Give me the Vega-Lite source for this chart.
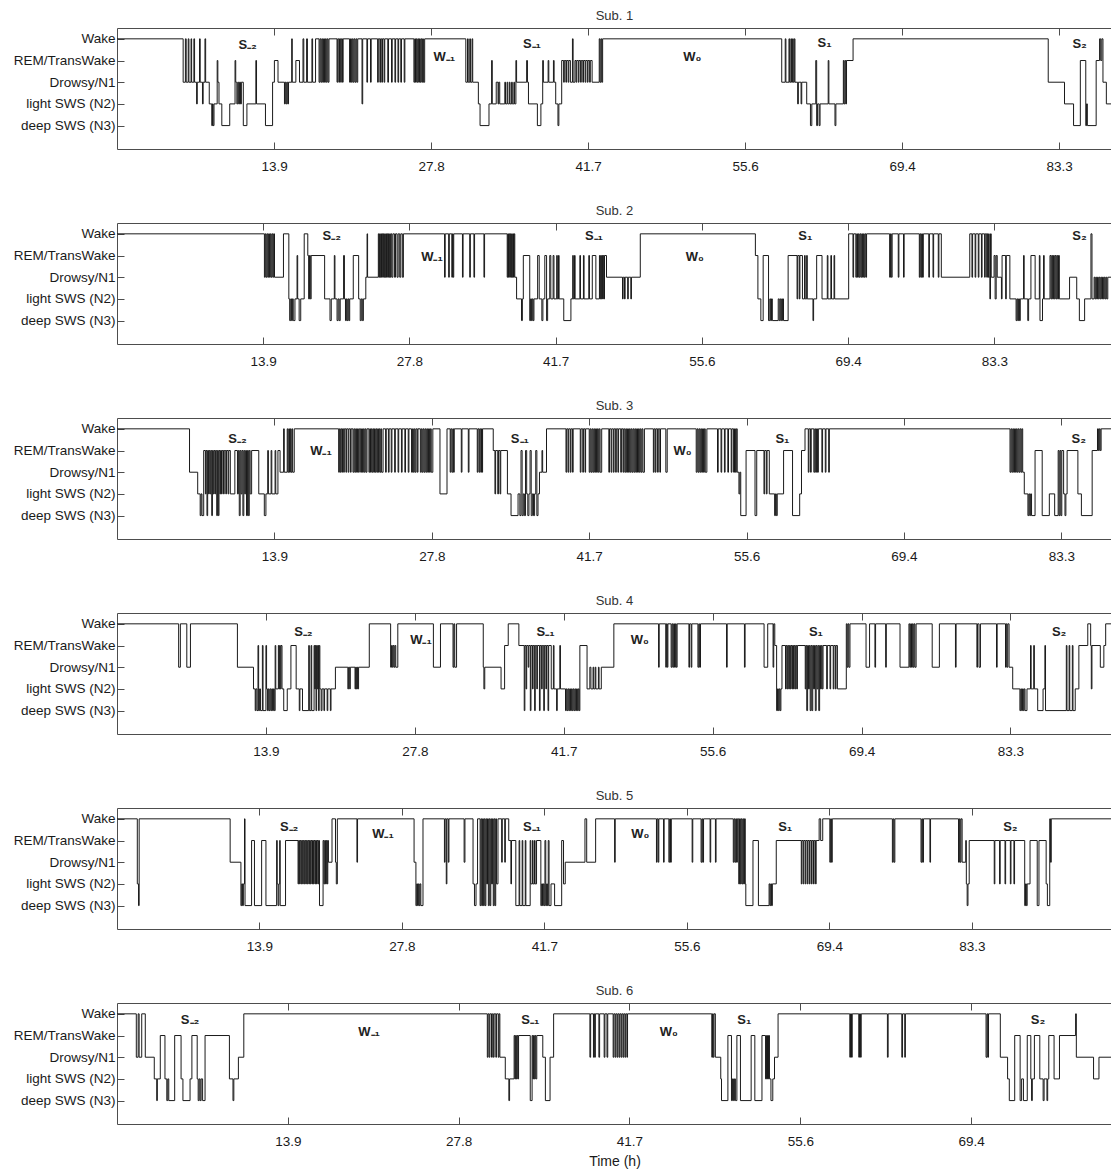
{
"$schema": "https://vega.github.io/schema/vega-lite/v6.json",
"padding": {"left": 0, "top": 9, "right": 0, "bottom": 0},
"config": {
 "font": "Liberation Sans",
 "view": {"stroke": "#4d4d4d", "strokeWidth": 1},
 "axis": {"domain": false, "grid": false, "ticks": true, "tickSize": -7, "tickColor": "#4d4d4d", "labelFontSize": 13.5, "labelColor": "#1a1a1a", "labelFont": "Liberation Sans", "labelOverlap": false},
 "axisBottom": {"labelPadding": 17, "minExtent": 30, "maxExtent": 30},
 "axisTop": {"minExtent": 0, "maxExtent": 0},
 "axisLeft": {"labelPadding": 9, "minExtent": 116, "maxExtent": 116},
 "title": {"fontSize": 13, "fontWeight": "normal", "font": "Liberation Sans", "color": "#333333", "offset": 5, "anchor": "middle"},
 "concat": {"spacing": 24}
},
"datasets": {
"lab": [
{"p":1,"t":11.55,"s":4.72,"txt":"S₋₂"},{"p":1,"t":28.95,"s":4.15,"txt":"W₋₁"},{"p":1,"t":36.7,"s":4.77,"txt":"S₋₁"},{"p":1,"t":50.88,"s":4.15,"txt":"W₀"},{"p":1,"t":62.58,"s":4.8,"txt":"S₁"},{"p":1,"t":85.14,"s":4.77,"txt":"S₂"},
{"p":2,"t":20.4,"s":4.88,"txt":"S₋₂"},{"p":2,"t":29.92,"s":3.92,"txt":"W₋₁"},{"p":2,"t":45.3,"s":4.88,"txt":"S₋₁"},{"p":2,"t":54.88,"s":3.92,"txt":"W₀"},{"p":2,"t":65.37,"s":4.88,"txt":"S₁"},{"p":2,"t":91.42,"s":4.88,"txt":"S₂"},
{"p":3,"t":10.63,"s":4.55,"txt":"S₋₂"},{"p":3,"t":18.0,"s":3.97,"txt":"W₋₁"},{"p":3,"t":35.55,"s":4.55,"txt":"S₋₁"},{"p":3,"t":49.91,"s":3.97,"txt":"W₀"},{"p":3,"t":58.72,"s":4.55,"txt":"S₁"},{"p":3,"t":84.87,"s":4.55,"txt":"S₂"},
{"p":4,"t":17.38,"s":4.62,"txt":"S₋₂"},{"p":4,"t":28.35,"s":4.25,"txt":"W₋₁"},{"p":4,"t":39.97,"s":4.62,"txt":"S₋₁"},{"p":4,"t":48.77,"s":4.25,"txt":"W₀"},{"p":4,"t":65.19,"s":4.62,"txt":"S₁"},{"p":4,"t":87.87,"s":4.62,"txt":"S₂"},
{"p":5,"t":16.78,"s":4.62,"txt":"S₋₂"},{"p":5,"t":25.93,"s":4.3,"txt":"W₋₁"},{"p":5,"t":40.45,"s":4.62,"txt":"S₋₁"},{"p":5,"t":51.02,"s":4.3,"txt":"W₀"},{"p":5,"t":65.14,"s":4.62,"txt":"S₁"},{"p":5,"t":87.09,"s":4.62,"txt":"S₂"},
{"p":6,"t":5.94,"s":4.72,"txt":"S₋₂"},{"p":6,"t":20.5,"s":4.15,"txt":"W₋₁"},{"p":6,"t":33.6,"s":4.72,"txt":"S₋₁"},{"p":6,"t":44.86,"s":4.15,"txt":"W₀"},{"p":6,"t":51.0,"s":4.72,"txt":"S₁"},{"p":6,"t":74.89,"s":4.72,"txt":"S₂"}
],
"p1": [{"t":0,"s":5},{"t":5.85,"s":3},{"t":6.05,"s":5},{"t":6.12,"s":3},{"t":6.3,"s":5},{"t":6.36,"s":3},{"t":6.55,"s":5},{"t":6.6,"s":3},{"t":6.8,"s":5},{"t":6.86,"s":3},{"t":7.04,"s":2},{"t":7.1,"s":3},{"t":7.3,"s":5},{"t":7.36,"s":3},{"t":7.56,"s":2},{"t":7.62,"s":3},{"t":7.78,"s":5},{"t":7.84,"s":3},{"t":8.16,"s":2},{"t":8.38,"s":1},{"t":8.45,"s":2},{"t":8.5,"s":1},{"t":8.58,"s":2},{"t":8.86,"s":4},{"t":8.92,"s":3},{"t":9.02,"s":2},{"t":9.27,"s":1},{"t":9.97,"s":2},{"t":10.44,"s":4},{"t":10.5,"s":3},{"t":10.6,"s":2},{"t":10.68,"s":3},{"t":10.76,"s":2},{"t":10.84,"s":3},{"t":10.92,"s":2},{"t":11.0,"s":3},{"t":11.17,"s":1},{"t":11.49,"s":2},{"t":12.28,"s":4},{"t":12.34,"s":2},{"t":13.13,"s":1},{"t":13.76,"s":3},{"t":13.92,"s":4},{"t":14.24,"s":3},{"t":14.81,"s":2},{"t":14.88,"s":3},{"t":14.95,"s":2},{"t":15.02,"s":3},{"t":15.1,"s":2},{"t":15.17,"s":3},{"t":15.45,"s":5},{"t":15.5,"s":3},{"t":15.82,"s":4},{"t":16.14,"s":3},{"t":16.45,"s":5},{"t":16.52,"s":3},{"t":16.77,"s":5},{"t":16.84,"s":3},{"t":17.24,"s":5},{"t":17.3,"s":3},{"t":17.56,"s":5},{"t":17.87,"s":3},{"t":17.95,"s":5},{"t":18.03,"s":3},{"t":18.11,"s":5},{"t":18.19,"s":3},{"t":18.27,"s":5},{"t":18.35,"s":3},{"t":18.43,"s":5},{"t":18.51,"s":3},{"t":18.59,"s":5},{"t":18.67,"s":3},{"t":18.75,"s":5},{"t":19.46,"s":3},{"t":19.52,"s":5},{"t":19.62,"s":3},{"t":19.68,"s":5},{"t":19.78,"s":3},{"t":19.84,"s":5},{"t":19.94,"s":3},{"t":20.0,"s":5},{"t":20.57,"s":3},{"t":20.65,"s":5},{"t":20.73,"s":3},{"t":20.81,"s":5},{"t":20.89,"s":3},{"t":20.97,"s":5},{"t":21.05,"s":3},{"t":21.13,"s":5},{"t":21.21,"s":3},{"t":21.29,"s":5},{"t":21.67,"s":2},{"t":21.73,"s":5},{"t":22.1,"s":3},{"t":22.16,"s":5},{"t":22.42,"s":3},{"t":22.48,"s":5},{"t":23.05,"s":3},{"t":23.11,"s":5},{"t":23.25,"s":3},{"t":23.31,"s":5},{"t":23.42,"s":3},{"t":23.48,"s":5},{"t":23.62,"s":3},{"t":23.68,"s":5},{"t":23.95,"s":3},{"t":24.01,"s":5},{"t":24.28,"s":3},{"t":24.34,"s":5},{"t":24.58,"s":3},{"t":24.64,"s":5},{"t":24.85,"s":3},{"t":24.91,"s":5},{"t":25.1,"s":3},{"t":25.16,"s":5},{"t":25.4,"s":3},{"t":25.46,"s":5},{"t":26.26,"s":3},{"t":26.33,"s":5},{"t":26.4,"s":3},{"t":26.47,"s":5},{"t":26.54,"s":3},{"t":26.61,"s":5},{"t":26.68,"s":3},{"t":26.75,"s":5},{"t":26.82,"s":3},{"t":26.89,"s":5},{"t":26.96,"s":3},{"t":27.03,"s":5},{"t":27.1,"s":3},{"t":27.21,"s":5},{"t":30.85,"s":3},{"t":31.0,"s":5},{"t":31.06,"s":3},{"t":31.2,"s":5},{"t":31.26,"s":3},{"t":31.4,"s":5},{"t":31.46,"s":3},{"t":31.96,"s":2},{"t":32.11,"s":1},{"t":32.9,"s":2},{"t":33.13,"s":4},{"t":33.19,"s":2},{"t":33.54,"s":3},{"t":33.7,"s":2},{"t":33.76,"s":3},{"t":33.85,"s":2},{"t":34.3,"s":3},{"t":34.36,"s":2},{"t":34.5,"s":3},{"t":34.56,"s":2},{"t":34.7,"s":3},{"t":34.76,"s":2},{"t":34.9,"s":3},{"t":34.96,"s":2},{"t":35.1,"s":3},{"t":35.16,"s":2},{"t":35.28,"s":4},{"t":35.34,"s":3},{"t":36.23,"s":4},{"t":36.3,"s":3},{"t":36.39,"s":2},{"t":37.18,"s":1},{"t":37.49,"s":2},{"t":37.65,"s":4},{"t":37.71,"s":3},{"t":38.13,"s":4},{"t":38.19,"s":3},{"t":38.6,"s":4},{"t":38.66,"s":3},{"t":38.8,"s":2},{"t":39.0,"s":1},{"t":39.08,"s":2},{"t":39.33,"s":4},{"t":39.5,"s":3},{"t":39.56,"s":4},{"t":39.7,"s":3},{"t":39.76,"s":4},{"t":39.9,"s":3},{"t":39.96,"s":4},{"t":40.1,"s":3},{"t":40.28,"s":5},{"t":40.34,"s":3},{"t":40.5,"s":4},{"t":40.6,"s":3},{"t":40.66,"s":4},{"t":40.8,"s":3},{"t":40.86,"s":4},{"t":41.0,"s":3},{"t":41.06,"s":4},{"t":41.2,"s":3},{"t":41.26,"s":4},{"t":41.4,"s":3},{"t":41.46,"s":4},{"t":41.6,"s":3},{"t":41.66,"s":4},{"t":41.8,"s":3},{"t":41.86,"s":4},{"t":42.02,"s":3},{"t":42.65,"s":5},{"t":42.72,"s":3},{"t":42.8,"s":5},{"t":42.87,"s":3},{"t":42.95,"s":5},{"t":58.79,"s":3},{"t":59.1,"s":5},{"t":59.16,"s":3},{"t":59.43,"s":5},{"t":59.49,"s":3},{"t":59.6,"s":5},{"t":59.66,"s":3},{"t":59.75,"s":5},{"t":59.81,"s":3},{"t":59.9,"s":5},{"t":59.96,"s":3},{"t":60.2,"s":2},{"t":60.26,"s":3},{"t":60.5,"s":2},{"t":60.56,"s":3},{"t":61.0,"s":2},{"t":61.33,"s":1},{"t":61.45,"s":2},{"t":61.8,"s":4},{"t":61.88,"s":1},{"t":61.96,"s":2},{"t":62.1,"s":1},{"t":62.18,"s":2},{"t":62.9,"s":4},{"t":62.96,"s":2},{"t":63.5,"s":1},{"t":63.58,"s":2},{"t":64.24,"s":4},{"t":64.3,"s":2},{"t":64.38,"s":4},{"t":64.45,"s":2},{"t":64.52,"s":4},{"t":65.1,"s":5},{"t":82.36,"s":3},{"t":83.8,"s":2},{"t":84.6,"s":1},{"t":85.2,"s":4},{"t":85.68,"s":1},{"t":85.75,"s":2},{"t":85.82,"s":1},{"t":86.6,"s":4},{"t":86.9,"s":5},{"t":87.0,"s":4},{"t":87.1,"s":5},{"t":87.2,"s":3},{"t":87.5,"s":2},{"t":88.0,"s":2}],
"p2": [{"t":0,"s":5},{"t":14.0,"s":3},{"t":14.08,"s":5},{"t":14.16,"s":3},{"t":14.24,"s":5},{"t":14.32,"s":3},{"t":14.4,"s":5},{"t":14.48,"s":3},{"t":14.56,"s":5},{"t":14.64,"s":3},{"t":14.72,"s":5},{"t":14.8,"s":3},{"t":14.88,"s":5},{"t":14.96,"s":3},{"t":15.81,"s":5},{"t":16.32,"s":2},{"t":16.4,"s":1},{"t":16.5,"s":2},{"t":16.58,"s":1},{"t":16.66,"s":2},{"t":16.74,"s":1},{"t":16.9,"s":2},{"t":17.1,"s":4},{"t":17.16,"s":2},{"t":17.3,"s":1},{"t":17.45,"s":2},{"t":17.78,"s":5},{"t":18.12,"s":4},{"t":18.2,"s":2},{"t":18.28,"s":4},{"t":18.36,"s":2},{"t":18.44,"s":4},{"t":19.72,"s":2},{"t":20.23,"s":1},{"t":20.35,"s":2},{"t":20.64,"s":4},{"t":20.7,"s":2},{"t":20.9,"s":1},{"t":21.0,"s":2},{"t":21.1,"s":1},{"t":21.2,"s":2},{"t":21.52,"s":4},{"t":21.6,"s":2},{"t":21.7,"s":1},{"t":21.78,"s":2},{"t":21.86,"s":1},{"t":21.94,"s":2},{"t":22.02,"s":1},{"t":22.1,"s":2},{"t":22.44,"s":4},{"t":22.95,"s":2},{"t":23.1,"s":1},{"t":23.2,"s":2},{"t":23.3,"s":1},{"t":23.4,"s":2},{"t":23.63,"s":3},{"t":23.75,"s":5},{"t":23.8,"s":3},{"t":24.82,"s":5},{"t":24.88,"s":3},{"t":24.94,"s":5},{"t":25.0,"s":3},{"t":25.06,"s":5},{"t":25.12,"s":3},{"t":25.18,"s":5},{"t":25.24,"s":3},{"t":25.3,"s":5},{"t":25.36,"s":3},{"t":25.42,"s":5},{"t":25.48,"s":3},{"t":25.54,"s":5},{"t":25.6,"s":3},{"t":25.66,"s":5},{"t":25.72,"s":3},{"t":25.78,"s":5},{"t":25.84,"s":3},{"t":25.9,"s":5},{"t":25.96,"s":3},{"t":26.02,"s":5},{"t":26.1,"s":3},{"t":26.2,"s":5},{"t":26.35,"s":3},{"t":26.45,"s":5},{"t":26.6,"s":3},{"t":26.7,"s":5},{"t":26.85,"s":3},{"t":26.95,"s":5},{"t":27.1,"s":3},{"t":27.2,"s":5},{"t":31.11,"s":3},{"t":31.17,"s":5},{"t":31.5,"s":3},{"t":31.56,"s":5},{"t":31.8,"s":3},{"t":31.86,"s":5},{"t":31.92,"s":3},{"t":31.98,"s":5},{"t":32.81,"s":3},{"t":32.87,"s":5},{"t":33.5,"s":3},{"t":33.56,"s":5},{"t":33.9,"s":3},{"t":33.96,"s":5},{"t":34.85,"s":3},{"t":34.91,"s":5},{"t":37.06,"s":3},{"t":37.12,"s":5},{"t":37.18,"s":3},{"t":37.24,"s":5},{"t":37.3,"s":3},{"t":37.36,"s":5},{"t":37.42,"s":3},{"t":37.48,"s":5},{"t":37.54,"s":3},{"t":37.6,"s":5},{"t":37.66,"s":3},{"t":37.72,"s":5},{"t":37.78,"s":3},{"t":37.95,"s":2},{"t":38.42,"s":1},{"t":38.5,"s":2},{"t":38.59,"s":4},{"t":39.2,"s":1},{"t":39.28,"s":2},{"t":39.36,"s":1},{"t":39.44,"s":2},{"t":39.52,"s":1},{"t":39.6,"s":2},{"t":39.95,"s":4},{"t":40.1,"s":2},{"t":40.35,"s":1},{"t":40.45,"s":2},{"t":40.63,"s":4},{"t":40.8,"s":1},{"t":40.9,"s":2},{"t":41.1,"s":4},{"t":41.2,"s":2},{"t":41.42,"s":4},{"t":41.5,"s":2},{"t":41.76,"s":4},{"t":41.82,"s":2},{"t":41.93,"s":4},{"t":41.99,"s":2},{"t":42.43,"s":1},{"t":43.11,"s":2},{"t":43.28,"s":4},{"t":43.34,"s":2},{"t":43.45,"s":4},{"t":43.51,"s":2},{"t":43.96,"s":4},{"t":44.02,"s":2},{"t":44.3,"s":4},{"t":44.36,"s":2},{"t":44.81,"s":4},{"t":44.87,"s":2},{"t":45.14,"s":4},{"t":45.48,"s":2},{"t":45.82,"s":4},{"t":45.88,"s":2},{"t":45.94,"s":4},{"t":46.0,"s":2},{"t":46.06,"s":4},{"t":46.12,"s":2},{"t":46.18,"s":4},{"t":46.24,"s":2},{"t":46.3,"s":4},{"t":46.49,"s":3},{"t":48.01,"s":2},{"t":48.07,"s":3},{"t":48.2,"s":2},{"t":48.26,"s":3},{"t":48.5,"s":2},{"t":48.56,"s":3},{"t":48.8,"s":2},{"t":48.86,"s":3},{"t":49.7,"s":5},{"t":60.63,"s":4},{"t":60.87,"s":2},{"t":61.15,"s":1},{"t":61.37,"s":4},{"t":61.88,"s":1},{"t":62.0,"s":2},{"t":62.08,"s":1},{"t":62.16,"s":2},{"t":62.24,"s":1},{"t":62.8,"s":2},{"t":62.9,"s":1},{"t":63.0,"s":2},{"t":63.1,"s":1},{"t":63.2,"s":2},{"t":63.3,"s":1},{"t":63.74,"s":4},{"t":64.59,"s":2},{"t":64.65,"s":4},{"t":64.8,"s":2},{"t":64.86,"s":4},{"t":65.1,"s":2},{"t":65.3,"s":4},{"t":65.36,"s":2},{"t":65.5,"s":4},{"t":65.56,"s":2},{"t":66.1,"s":1},{"t":66.16,"s":2},{"t":66.45,"s":4},{"t":66.96,"s":2},{"t":67.46,"s":4},{"t":67.52,"s":2},{"t":67.8,"s":4},{"t":67.86,"s":2},{"t":68.1,"s":4},{"t":68.16,"s":2},{"t":69.49,"s":5},{"t":69.9,"s":3},{"t":69.96,"s":5},{"t":70.17,"s":3},{"t":70.25,"s":5},{"t":70.33,"s":3},{"t":70.41,"s":5},{"t":70.49,"s":3},{"t":70.57,"s":5},{"t":70.65,"s":3},{"t":70.73,"s":5},{"t":70.81,"s":3},{"t":70.89,"s":5},{"t":70.97,"s":3},{"t":71.05,"s":5},{"t":71.13,"s":3},{"t":71.19,"s":5},{"t":73.38,"s":3},{"t":73.46,"s":5},{"t":73.54,"s":3},{"t":73.62,"s":5},{"t":74.2,"s":3},{"t":74.26,"s":5},{"t":74.7,"s":3},{"t":74.76,"s":5},{"t":76.2,"s":3},{"t":76.26,"s":5},{"t":76.34,"s":3},{"t":76.42,"s":5},{"t":76.5,"s":3},{"t":76.58,"s":5},{"t":77.1,"s":3},{"t":77.16,"s":5},{"t":77.5,"s":3},{"t":77.56,"s":5},{"t":78.0,"s":3},{"t":78.06,"s":5},{"t":78.29,"s":3},{"t":80.99,"s":5},{"t":81.2,"s":3},{"t":81.26,"s":5},{"t":81.5,"s":3},{"t":81.56,"s":5},{"t":81.8,"s":3},{"t":81.86,"s":5},{"t":82.1,"s":3},{"t":82.16,"s":5},{"t":82.4,"s":3},{"t":82.46,"s":5},{"t":82.6,"s":3},{"t":82.66,"s":5},{"t":82.72,"s":3},{"t":82.78,"s":5},{"t":82.84,"s":3},{"t":82.9,"s":2},{"t":82.96,"s":5},{"t":83.03,"s":3},{"t":83.3,"s":4},{"t":83.4,"s":2},{"t":83.5,"s":4},{"t":83.6,"s":3},{"t":84.0,"s":2},{"t":84.06,"s":4},{"t":84.4,"s":2},{"t":84.46,"s":4},{"t":84.8,"s":2},{"t":85.39,"s":1},{"t":85.47,"s":2},{"t":85.55,"s":1},{"t":85.63,"s":2},{"t":85.71,"s":1},{"t":85.79,"s":2},{"t":86.1,"s":4},{"t":86.16,"s":2},{"t":86.5,"s":1},{"t":86.58,"s":2},{"t":86.8,"s":4},{"t":87.2,"s":2},{"t":87.6,"s":4},{"t":87.66,"s":1},{"t":87.9,"s":2},{"t":88.0,"s":4},{"t":88.06,"s":2},{"t":88.61,"s":4},{"t":88.7,"s":2},{"t":88.78,"s":4},{"t":88.86,"s":2},{"t":88.94,"s":4},{"t":89.02,"s":2},{"t":89.1,"s":4},{"t":89.18,"s":2},{"t":89.26,"s":4},{"t":89.34,"s":2},{"t":89.42,"s":4},{"t":89.5,"s":2},{"t":90.47,"s":3},{"t":91.15,"s":2},{"t":91.4,"s":1},{"t":91.9,"s":2},{"t":92.5,"s":5},{"t":92.6,"s":2},{"t":92.8,"s":3},{"t":92.88,"s":2},{"t":92.96,"s":3},{"t":93.04,"s":2},{"t":93.12,"s":3},{"t":93.2,"s":2},{"t":93.28,"s":3},{"t":93.36,"s":2},{"t":93.44,"s":3},{"t":93.52,"s":2},{"t":93.6,"s":3},{"t":93.68,"s":2},{"t":93.76,"s":3},{"t":93.84,"s":2},{"t":93.92,"s":3},{"t":94.0,"s":2},{"t":94.1,"s":3},{"t":94.5,"s":3}],
"p3": [{"t":0,"s":5},{"t":6.4,"s":3},{"t":7.12,"s":2},{"t":7.34,"s":1},{"t":7.42,"s":2},{"t":7.5,"s":1},{"t":7.65,"s":4},{"t":7.8,"s":2},{"t":7.86,"s":4},{"t":7.94,"s":1},{"t":8.0,"s":4},{"t":8.08,"s":2},{"t":8.14,"s":4},{"t":8.22,"s":2},{"t":8.28,"s":4},{"t":8.36,"s":1},{"t":8.42,"s":4},{"t":8.5,"s":2},{"t":8.56,"s":4},{"t":8.64,"s":2},{"t":8.7,"s":4},{"t":8.8,"s":1},{"t":8.86,"s":4},{"t":8.94,"s":1},{"t":9.0,"s":4},{"t":9.08,"s":2},{"t":9.14,"s":4},{"t":9.22,"s":2},{"t":9.28,"s":4},{"t":9.4,"s":2},{"t":9.46,"s":4},{"t":9.6,"s":2},{"t":9.66,"s":4},{"t":9.8,"s":2},{"t":9.86,"s":4},{"t":10.0,"s":2},{"t":10.4,"s":4},{"t":10.63,"s":2},{"t":10.71,"s":4},{"t":10.79,"s":1},{"t":10.87,"s":4},{"t":10.95,"s":2},{"t":11.03,"s":4},{"t":11.11,"s":1},{"t":11.19,"s":4},{"t":11.27,"s":2},{"t":11.35,"s":4},{"t":11.43,"s":1},{"t":11.51,"s":4},{"t":11.59,"s":1},{"t":11.67,"s":4},{"t":11.75,"s":2},{"t":11.88,"s":4},{"t":12.51,"s":2},{"t":13.0,"s":1},{"t":13.14,"s":2},{"t":13.3,"s":4},{"t":13.36,"s":2},{"t":13.6,"s":4},{"t":13.66,"s":2},{"t":13.95,"s":4},{"t":14.01,"s":2},{"t":14.2,"s":4},{"t":14.39,"s":3},{"t":14.7,"s":5},{"t":14.76,"s":3},{"t":15.02,"s":5},{"t":15.08,"s":3},{"t":15.16,"s":5},{"t":15.22,"s":3},{"t":15.3,"s":5},{"t":15.36,"s":3},{"t":15.44,"s":5},{"t":15.5,"s":3},{"t":15.64,"s":5},{"t":19.56,"s":3},{"t":19.62,"s":5},{"t":19.7,"s":3},{"t":19.76,"s":5},{"t":19.84,"s":3},{"t":19.9,"s":5},{"t":20.0,"s":3},{"t":20.06,"s":5},{"t":20.2,"s":3},{"t":20.26,"s":5},{"t":20.4,"s":3},{"t":20.46,"s":5},{"t":20.6,"s":3},{"t":20.66,"s":5},{"t":20.82,"s":3},{"t":20.9,"s":5},{"t":20.98,"s":3},{"t":21.06,"s":5},{"t":21.14,"s":3},{"t":21.22,"s":5},{"t":21.3,"s":3},{"t":21.38,"s":5},{"t":21.5,"s":3},{"t":21.58,"s":5},{"t":21.66,"s":3},{"t":21.74,"s":5},{"t":21.82,"s":3},{"t":21.9,"s":5},{"t":21.98,"s":3},{"t":22.06,"s":5},{"t":22.23,"s":3},{"t":22.3,"s":5},{"t":22.37,"s":3},{"t":22.44,"s":5},{"t":22.51,"s":3},{"t":22.58,"s":5},{"t":22.65,"s":3},{"t":22.72,"s":5},{"t":22.79,"s":3},{"t":22.86,"s":5},{"t":22.93,"s":3},{"t":23.0,"s":5},{"t":23.07,"s":3},{"t":23.14,"s":5},{"t":23.21,"s":3},{"t":23.28,"s":5},{"t":23.35,"s":3},{"t":23.48,"s":5},{"t":23.7,"s":3},{"t":23.76,"s":5},{"t":23.95,"s":3},{"t":24.01,"s":5},{"t":24.2,"s":3},{"t":24.26,"s":5},{"t":24.5,"s":3},{"t":24.56,"s":5},{"t":24.8,"s":3},{"t":24.86,"s":5},{"t":25.1,"s":3},{"t":25.16,"s":5},{"t":25.4,"s":3},{"t":25.46,"s":5},{"t":25.7,"s":3},{"t":25.76,"s":5},{"t":25.99,"s":3},{"t":26.07,"s":5},{"t":26.15,"s":3},{"t":26.23,"s":5},{"t":26.31,"s":3},{"t":26.39,"s":5},{"t":26.5,"s":3},{"t":26.56,"s":5},{"t":26.77,"s":3},{"t":26.85,"s":5},{"t":26.93,"s":3},{"t":27.01,"s":5},{"t":27.09,"s":3},{"t":27.17,"s":5},{"t":27.25,"s":3},{"t":27.33,"s":5},{"t":27.41,"s":3},{"t":27.49,"s":5},{"t":27.57,"s":3},{"t":27.65,"s":5},{"t":27.73,"s":3},{"t":27.87,"s":5},{"t":28.5,"s":2},{"t":29.12,"s":5},{"t":29.4,"s":3},{"t":29.46,"s":5},{"t":29.55,"s":3},{"t":29.63,"s":5},{"t":29.7,"s":3},{"t":29.76,"s":5},{"t":30.38,"s":3},{"t":30.44,"s":5},{"t":31.0,"s":3},{"t":31.06,"s":5},{"t":31.79,"s":3},{"t":31.85,"s":5},{"t":31.95,"s":3},{"t":32.01,"s":5},{"t":32.1,"s":3},{"t":32.16,"s":5},{"t":32.22,"s":3},{"t":32.26,"s":5},{"t":33.2,"s":4},{"t":33.35,"s":2},{"t":33.41,"s":4},{"t":33.6,"s":2},{"t":33.66,"s":4},{"t":33.8,"s":2},{"t":33.86,"s":4},{"t":34.45,"s":2},{"t":34.77,"s":1},{"t":35.39,"s":2},{"t":35.55,"s":1},{"t":35.65,"s":4},{"t":35.75,"s":1},{"t":35.85,"s":2},{"t":35.95,"s":1},{"t":36.05,"s":4},{"t":36.15,"s":2},{"t":36.25,"s":1},{"t":36.35,"s":2},{"t":36.45,"s":4},{"t":36.55,"s":1},{"t":36.65,"s":2},{"t":36.75,"s":1},{"t":36.85,"s":2},{"t":36.95,"s":4},{"t":37.05,"s":1},{"t":37.15,"s":2},{"t":37.28,"s":3},{"t":37.5,"s":4},{"t":37.56,"s":3},{"t":37.9,"s":5},{"t":39.62,"s":3},{"t":39.68,"s":5},{"t":39.8,"s":3},{"t":39.86,"s":5},{"t":40.0,"s":3},{"t":40.06,"s":5},{"t":40.2,"s":3},{"t":40.25,"s":5},{"t":40.88,"s":3},{"t":40.94,"s":5},{"t":41.1,"s":3},{"t":41.16,"s":5},{"t":41.3,"s":3},{"t":41.35,"s":5},{"t":41.67,"s":3},{"t":41.75,"s":5},{"t":41.83,"s":3},{"t":41.91,"s":5},{"t":41.99,"s":3},{"t":42.07,"s":5},{"t":42.15,"s":3},{"t":42.23,"s":5},{"t":42.31,"s":3},{"t":42.39,"s":5},{"t":42.47,"s":3},{"t":42.55,"s":5},{"t":42.63,"s":3},{"t":42.77,"s":5},{"t":43.4,"s":3},{"t":43.46,"s":5},{"t":43.6,"s":3},{"t":43.66,"s":5},{"t":43.8,"s":3},{"t":43.86,"s":5},{"t":44.0,"s":3},{"t":44.06,"s":5},{"t":44.2,"s":3},{"t":44.26,"s":5},{"t":44.45,"s":3},{"t":44.51,"s":5},{"t":44.65,"s":3},{"t":44.71,"s":5},{"t":44.81,"s":3},{"t":44.89,"s":5},{"t":44.97,"s":3},{"t":45.05,"s":5},{"t":45.13,"s":3},{"t":45.21,"s":5},{"t":45.29,"s":3},{"t":45.37,"s":5},{"t":45.45,"s":3},{"t":45.53,"s":5},{"t":45.61,"s":3},{"t":45.69,"s":5},{"t":45.77,"s":3},{"t":45.85,"s":5},{"t":45.93,"s":3},{"t":46.01,"s":5},{"t":46.09,"s":3},{"t":46.17,"s":5},{"t":46.25,"s":3},{"t":46.33,"s":5},{"t":46.41,"s":3},{"t":46.54,"s":5},{"t":47.33,"s":3},{"t":47.39,"s":5},{"t":47.5,"s":3},{"t":47.56,"s":5},{"t":47.7,"s":3},{"t":47.76,"s":5},{"t":47.9,"s":3},{"t":47.96,"s":5},{"t":48.43,"s":3},{"t":48.55,"s":5},{"t":51.11,"s":3},{"t":51.19,"s":5},{"t":51.27,"s":3},{"t":51.35,"s":5},{"t":51.43,"s":3},{"t":51.51,"s":5},{"t":51.59,"s":3},{"t":51.67,"s":5},{"t":51.75,"s":3},{"t":51.83,"s":5},{"t":51.91,"s":3},{"t":52.05,"s":5},{"t":52.99,"s":3},{"t":53.05,"s":5},{"t":53.3,"s":3},{"t":53.36,"s":5},{"t":53.6,"s":3},{"t":53.66,"s":5},{"t":53.9,"s":3},{"t":53.96,"s":5},{"t":54.2,"s":3},{"t":54.26,"s":5},{"t":54.41,"s":3},{"t":54.49,"s":5},{"t":54.57,"s":3},{"t":54.65,"s":5},{"t":54.73,"s":3},{"t":54.88,"s":2},{"t":54.96,"s":3},{"t":55.04,"s":1},{"t":55.51,"s":4},{"t":56.3,"s":1},{"t":56.45,"s":4},{"t":57.09,"s":2},{"t":57.15,"s":4},{"t":57.3,"s":2},{"t":57.36,"s":4},{"t":57.56,"s":2},{"t":58.03,"s":1},{"t":58.1,"s":2},{"t":58.18,"s":1},{"t":58.26,"s":2},{"t":58.82,"s":4},{"t":59.61,"s":1},{"t":60.24,"s":2},{"t":60.4,"s":4},{"t":60.71,"s":5},{"t":61.0,"s":3},{"t":61.06,"s":5},{"t":61.2,"s":3},{"t":61.26,"s":5},{"t":61.49,"s":3},{"t":61.57,"s":5},{"t":61.65,"s":3},{"t":61.73,"s":5},{"t":61.81,"s":3},{"t":61.89,"s":5},{"t":62.2,"s":3},{"t":62.26,"s":5},{"t":62.5,"s":3},{"t":62.56,"s":5},{"t":62.8,"s":3},{"t":62.86,"s":5},{"t":78.8,"s":3},{"t":78.88,"s":5},{"t":78.96,"s":3},{"t":79.04,"s":5},{"t":79.12,"s":3},{"t":79.2,"s":5},{"t":79.28,"s":3},{"t":79.36,"s":5},{"t":79.44,"s":3},{"t":79.52,"s":5},{"t":79.6,"s":3},{"t":79.68,"s":5},{"t":79.76,"s":3},{"t":79.84,"s":5},{"t":79.92,"s":3},{"t":80.06,"s":2},{"t":80.38,"s":1},{"t":80.46,"s":2},{"t":80.54,"s":1},{"t":80.62,"s":2},{"t":80.7,"s":1},{"t":81.01,"s":4},{"t":81.64,"s":1},{"t":82.27,"s":2},{"t":82.74,"s":1},{"t":83.05,"s":4},{"t":83.13,"s":1},{"t":83.21,"s":4},{"t":83.29,"s":1},{"t":83.37,"s":4},{"t":83.53,"s":2},{"t":83.65,"s":1},{"t":83.73,"s":2},{"t":83.84,"s":4},{"t":84.79,"s":2},{"t":85.1,"s":1},{"t":86.05,"s":4},{"t":86.52,"s":5},{"t":86.6,"s":4},{"t":86.68,"s":5},{"t":86.76,"s":4},{"t":86.84,"s":5},{"t":87.8,"s":5}],
"p4": [{"t":0,"s":5},{"t":5.75,"s":3},{"t":5.91,"s":5},{"t":6.51,"s":3},{"t":6.85,"s":5},{"t":11.23,"s":3},{"t":12.73,"s":2},{"t":12.89,"s":1},{"t":12.95,"s":2},{"t":13.05,"s":1},{"t":13.15,"s":4},{"t":13.21,"s":1},{"t":13.3,"s":2},{"t":13.38,"s":1},{"t":13.56,"s":4},{"t":13.62,"s":1},{"t":13.89,"s":4},{"t":13.95,"s":2},{"t":14.03,"s":1},{"t":14.11,"s":2},{"t":14.19,"s":1},{"t":14.27,"s":2},{"t":14.35,"s":1},{"t":14.43,"s":2},{"t":14.51,"s":1},{"t":14.59,"s":2},{"t":14.67,"s":1},{"t":14.75,"s":4},{"t":14.81,"s":2},{"t":15.05,"s":4},{"t":15.11,"s":2},{"t":15.17,"s":4},{"t":15.23,"s":2},{"t":15.3,"s":4},{"t":15.39,"s":2},{"t":15.55,"s":1},{"t":15.88,"s":2},{"t":16.22,"s":4},{"t":16.71,"s":2},{"t":17.0,"s":1},{"t":17.06,"s":2},{"t":17.3,"s":1},{"t":17.88,"s":4},{"t":17.94,"s":1},{"t":18.1,"s":4},{"t":18.16,"s":1},{"t":18.38,"s":4},{"t":18.44,"s":2},{"t":18.5,"s":4},{"t":18.56,"s":1},{"t":18.62,"s":4},{"t":18.68,"s":2},{"t":18.74,"s":4},{"t":18.8,"s":1},{"t":18.86,"s":4},{"t":18.92,"s":2},{"t":19.04,"s":1},{"t":19.12,"s":2},{"t":19.3,"s":1},{"t":19.36,"s":2},{"t":19.6,"s":1},{"t":19.66,"s":2},{"t":19.9,"s":1},{"t":19.96,"s":2},{"t":20.37,"s":3},{"t":21.53,"s":2},{"t":21.6,"s":3},{"t":21.7,"s":2},{"t":21.76,"s":3},{"t":22.2,"s":2},{"t":22.26,"s":3},{"t":22.32,"s":2},{"t":22.38,"s":3},{"t":22.44,"s":2},{"t":22.53,"s":3},{"t":23.53,"s":5},{"t":25.52,"s":3},{"t":25.6,"s":4},{"t":25.68,"s":3},{"t":25.76,"s":4},{"t":25.84,"s":3},{"t":25.92,"s":4},{"t":26.0,"s":3},{"t":26.19,"s":5},{"t":29.51,"s":3},{"t":30.17,"s":5},{"t":31.34,"s":3},{"t":31.42,"s":5},{"t":31.5,"s":3},{"t":31.67,"s":5},{"t":34.16,"s":3},{"t":34.22,"s":2},{"t":34.3,"s":3},{"t":35.82,"s":2},{"t":36.15,"s":4},{"t":36.49,"s":5},{"t":37.48,"s":4},{"t":37.98,"s":1},{"t":38.04,"s":4},{"t":38.15,"s":2},{"t":38.21,"s":4},{"t":38.35,"s":3},{"t":38.41,"s":4},{"t":38.55,"s":1},{"t":38.61,"s":4},{"t":38.75,"s":2},{"t":38.81,"s":4},{"t":38.95,"s":1},{"t":39.01,"s":4},{"t":39.15,"s":2},{"t":39.21,"s":4},{"t":39.4,"s":1},{"t":39.46,"s":4},{"t":39.6,"s":2},{"t":39.66,"s":4},{"t":39.8,"s":1},{"t":39.86,"s":4},{"t":40.0,"s":2},{"t":40.06,"s":4},{"t":40.2,"s":1},{"t":40.26,"s":4},{"t":40.5,"s":2},{"t":40.7,"s":4},{"t":40.76,"s":2},{"t":41.0,"s":1},{"t":41.06,"s":2},{"t":41.3,"s":4},{"t":41.36,"s":2},{"t":41.83,"s":1},{"t":41.9,"s":2},{"t":41.98,"s":1},{"t":42.06,"s":2},{"t":42.14,"s":1},{"t":42.22,"s":2},{"t":42.3,"s":1},{"t":42.38,"s":2},{"t":42.46,"s":1},{"t":42.54,"s":2},{"t":42.62,"s":1},{"t":42.7,"s":2},{"t":42.78,"s":1},{"t":42.86,"s":2},{"t":42.94,"s":1},{"t":43.02,"s":2},{"t":43.1,"s":1},{"t":43.17,"s":4},{"t":43.84,"s":2},{"t":44.1,"s":3},{"t":44.2,"s":2},{"t":44.4,"s":3},{"t":44.46,"s":2},{"t":44.6,"s":3},{"t":44.66,"s":2},{"t":44.9,"s":3},{"t":44.96,"s":2},{"t":45.17,"s":3},{"t":46.34,"s":5},{"t":50.51,"s":3},{"t":50.57,"s":5},{"t":51.18,"s":3},{"t":51.24,"s":5},{"t":51.32,"s":3},{"t":51.38,"s":5},{"t":51.68,"s":3},{"t":51.76,"s":5},{"t":51.84,"s":3},{"t":51.92,"s":5},{"t":52.0,"s":3},{"t":52.08,"s":5},{"t":52.16,"s":3},{"t":52.24,"s":5},{"t":53.34,"s":3},{"t":53.4,"s":5},{"t":53.55,"s":3},{"t":53.61,"s":5},{"t":54.18,"s":3},{"t":54.26,"s":5},{"t":54.34,"s":3},{"t":54.42,"s":5},{"t":56.85,"s":3},{"t":56.91,"s":5},{"t":58.52,"s":3},{"t":58.58,"s":5},{"t":60.35,"s":3},{"t":60.69,"s":5},{"t":61.19,"s":3},{"t":61.25,"s":5},{"t":61.35,"s":4},{"t":61.52,"s":1},{"t":61.6,"s":2},{"t":61.68,"s":1},{"t":61.76,"s":2},{"t":61.84,"s":1},{"t":61.92,"s":2},{"t":62.02,"s":4},{"t":62.35,"s":2},{"t":62.41,"s":4},{"t":62.5,"s":2},{"t":62.56,"s":4},{"t":62.65,"s":2},{"t":62.71,"s":4},{"t":62.8,"s":2},{"t":62.86,"s":4},{"t":62.95,"s":2},{"t":63.01,"s":4},{"t":63.1,"s":2},{"t":63.16,"s":4},{"t":63.25,"s":2},{"t":63.31,"s":4},{"t":63.4,"s":2},{"t":63.46,"s":4},{"t":64.19,"s":2},{"t":64.25,"s":4},{"t":64.33,"s":1},{"t":64.41,"s":4},{"t":64.49,"s":2},{"t":64.57,"s":4},{"t":64.65,"s":1},{"t":64.73,"s":4},{"t":64.81,"s":1},{"t":64.89,"s":4},{"t":64.97,"s":2},{"t":65.05,"s":4},{"t":65.13,"s":1},{"t":65.21,"s":4},{"t":65.29,"s":2},{"t":65.37,"s":4},{"t":65.45,"s":1},{"t":65.53,"s":4},{"t":65.61,"s":2},{"t":65.69,"s":4},{"t":65.77,"s":2},{"t":65.85,"s":4},{"t":66.19,"s":2},{"t":66.25,"s":4},{"t":66.5,"s":2},{"t":66.56,"s":4},{"t":66.8,"s":2},{"t":66.86,"s":4},{"t":67.0,"s":2},{"t":67.06,"s":4},{"t":67.19,"s":2},{"t":68.02,"s":5},{"t":68.1,"s":3},{"t":68.18,"s":5},{"t":68.26,"s":3},{"t":68.36,"s":5},{"t":69.86,"s":3},{"t":70.19,"s":5},{"t":70.69,"s":3},{"t":70.75,"s":5},{"t":71.69,"s":3},{"t":71.75,"s":5},{"t":73.03,"s":3},{"t":73.86,"s":5},{"t":73.94,"s":3},{"t":74.02,"s":5},{"t":74.1,"s":3},{"t":74.18,"s":5},{"t":74.26,"s":3},{"t":74.34,"s":5},{"t":74.42,"s":3},{"t":74.53,"s":5},{"t":76.03,"s":3},{"t":76.7,"s":5},{"t":78.2,"s":3},{"t":78.26,"s":5},{"t":80.2,"s":3},{"t":80.26,"s":5},{"t":80.4,"s":3},{"t":80.53,"s":5},{"t":82.03,"s":3},{"t":82.09,"s":5},{"t":82.87,"s":3},{"t":82.93,"s":5},{"t":83.0,"s":3},{"t":83.08,"s":5},{"t":83.2,"s":3},{"t":83.54,"s":2},{"t":84.21,"s":1},{"t":84.29,"s":2},{"t":84.37,"s":1},{"t":84.45,"s":2},{"t":84.53,"s":1},{"t":84.61,"s":2},{"t":84.69,"s":1},{"t":84.87,"s":2},{"t":85.2,"s":4},{"t":85.26,"s":2},{"t":85.5,"s":4},{"t":85.56,"s":2},{"t":85.87,"s":1},{"t":86.37,"s":2},{"t":86.54,"s":4},{"t":86.6,"s":1},{"t":88.54,"s":4},{"t":88.6,"s":1},{"t":88.8,"s":4},{"t":88.86,"s":1},{"t":89.1,"s":4},{"t":89.16,"s":1},{"t":89.37,"s":2},{"t":89.71,"s":4},{"t":90.54,"s":5},{"t":90.81,"s":4},{"t":90.87,"s":2},{"t":90.93,"s":4},{"t":91.71,"s":3},{"t":92.04,"s":4},{"t":92.21,"s":5},{"t":92.8,"s":5}],
"p5": [{"t":0,"s":5},{"t":1.98,"s":2},{"t":2.1,"s":1},{"t":2.16,"s":5},{"t":11.03,"s":3},{"t":12.08,"s":1},{"t":12.16,"s":2},{"t":12.24,"s":1},{"t":12.32,"s":2},{"t":12.43,"s":5},{"t":12.48,"s":1},{"t":13.12,"s":4},{"t":13.4,"s":1},{"t":14.1,"s":4},{"t":14.52,"s":1},{"t":15.56,"s":4},{"t":15.62,"s":2},{"t":15.7,"s":1},{"t":15.78,"s":2},{"t":15.86,"s":4},{"t":15.91,"s":1},{"t":16.43,"s":4},{"t":17.65,"s":2},{"t":17.71,"s":4},{"t":17.8,"s":2},{"t":17.86,"s":4},{"t":17.95,"s":2},{"t":18.01,"s":4},{"t":18.1,"s":2},{"t":18.16,"s":4},{"t":18.25,"s":2},{"t":18.31,"s":4},{"t":18.4,"s":2},{"t":18.46,"s":4},{"t":18.55,"s":2},{"t":18.61,"s":4},{"t":18.7,"s":2},{"t":18.76,"s":4},{"t":18.85,"s":2},{"t":18.91,"s":4},{"t":19.0,"s":2},{"t":19.06,"s":4},{"t":19.15,"s":2},{"t":19.21,"s":4},{"t":19.3,"s":2},{"t":19.36,"s":4},{"t":19.45,"s":2},{"t":19.51,"s":4},{"t":19.6,"s":2},{"t":19.66,"s":4},{"t":19.74,"s":1},{"t":20.09,"s":4},{"t":20.17,"s":2},{"t":20.25,"s":4},{"t":20.33,"s":2},{"t":20.41,"s":4},{"t":20.49,"s":2},{"t":20.55,"s":4},{"t":20.61,"s":3},{"t":20.96,"s":5},{"t":21.3,"s":3},{"t":21.38,"s":2},{"t":21.48,"s":5},{"t":23.39,"s":3},{"t":23.45,"s":5},{"t":28.96,"s":3},{"t":29.14,"s":1},{"t":29.22,"s":2},{"t":29.3,"s":1},{"t":29.38,"s":2},{"t":29.46,"s":1},{"t":29.54,"s":2},{"t":29.62,"s":1},{"t":29.83,"s":5},{"t":31.92,"s":3},{"t":31.98,"s":5},{"t":32.1,"s":2},{"t":32.16,"s":5},{"t":32.3,"s":3},{"t":32.36,"s":5},{"t":33.84,"s":3},{"t":33.92,"s":5},{"t":34.71,"s":2},{"t":34.85,"s":1},{"t":35.0,"s":2},{"t":35.15,"s":5},{"t":35.4,"s":1},{"t":35.48,"s":5},{"t":35.56,"s":1},{"t":35.64,"s":5},{"t":35.72,"s":1},{"t":35.8,"s":5},{"t":35.88,"s":1},{"t":35.96,"s":5},{"t":36.04,"s":2},{"t":36.12,"s":5},{"t":36.2,"s":1},{"t":36.28,"s":5},{"t":36.36,"s":1},{"t":36.44,"s":5},{"t":36.52,"s":2},{"t":36.6,"s":5},{"t":36.68,"s":1},{"t":36.76,"s":5},{"t":36.84,"s":1},{"t":36.92,"s":5},{"t":37.0,"s":2},{"t":37.14,"s":5},{"t":37.5,"s":3},{"t":37.56,"s":5},{"t":37.8,"s":3},{"t":37.86,"s":5},{"t":38.19,"s":4},{"t":38.4,"s":2},{"t":38.46,"s":4},{"t":38.88,"s":1},{"t":39.2,"s":4},{"t":39.26,"s":1},{"t":39.5,"s":4},{"t":39.56,"s":1},{"t":39.8,"s":4},{"t":39.86,"s":1},{"t":40.28,"s":4},{"t":40.34,"s":2},{"t":40.5,"s":4},{"t":40.56,"s":2},{"t":40.7,"s":4},{"t":40.76,"s":2},{"t":40.9,"s":4},{"t":41.32,"s":1},{"t":41.4,"s":2},{"t":41.48,"s":1},{"t":41.56,"s":2},{"t":41.64,"s":1},{"t":41.72,"s":4},{"t":41.8,"s":1},{"t":41.88,"s":2},{"t":41.96,"s":1},{"t":42.04,"s":4},{"t":42.12,"s":1},{"t":42.31,"s":2},{"t":42.66,"s":1},{"t":43.35,"s":4},{"t":43.53,"s":2},{"t":43.7,"s":3},{"t":45.62,"s":5},{"t":45.79,"s":3},{"t":46.66,"s":5},{"t":48.51,"s":3},{"t":48.57,"s":5},{"t":52.59,"s":3},{"t":52.65,"s":5},{"t":52.76,"s":3},{"t":52.82,"s":5},{"t":53.28,"s":3},{"t":53.34,"s":5},{"t":53.8,"s":3},{"t":53.88,"s":5},{"t":53.96,"s":3},{"t":54.04,"s":5},{"t":56.07,"s":3},{"t":56.13,"s":5},{"t":56.94,"s":3},{"t":57.02,"s":5},{"t":57.1,"s":3},{"t":57.18,"s":5},{"t":57.82,"s":3},{"t":57.88,"s":5},{"t":58.34,"s":3},{"t":58.4,"s":5},{"t":60.08,"s":3},{"t":60.16,"s":5},{"t":60.24,"s":3},{"t":60.32,"s":5},{"t":60.4,"s":3},{"t":60.48,"s":5},{"t":60.61,"s":2},{"t":60.69,"s":5},{"t":60.77,"s":2},{"t":60.85,"s":5},{"t":60.93,"s":2},{"t":61.01,"s":5},{"t":61.09,"s":2},{"t":61.17,"s":5},{"t":61.25,"s":2},{"t":61.3,"s":1},{"t":62.0,"s":4},{"t":62.53,"s":1},{"t":63.57,"s":2},{"t":63.65,"s":1},{"t":63.73,"s":2},{"t":63.81,"s":1},{"t":63.89,"s":2},{"t":64.27,"s":4},{"t":66.71,"s":2},{"t":66.77,"s":4},{"t":66.9,"s":2},{"t":66.96,"s":4},{"t":67.1,"s":2},{"t":67.16,"s":4},{"t":67.3,"s":2},{"t":67.36,"s":4},{"t":67.5,"s":2},{"t":67.56,"s":4},{"t":67.7,"s":2},{"t":67.76,"s":4},{"t":67.9,"s":2},{"t":67.96,"s":4},{"t":68.1,"s":2},{"t":68.16,"s":4},{"t":68.45,"s":5},{"t":68.6,"s":4},{"t":68.8,"s":5},{"t":69.49,"s":3},{"t":69.57,"s":5},{"t":69.65,"s":3},{"t":69.73,"s":5},{"t":75.59,"s":3},{"t":75.67,"s":5},{"t":75.75,"s":3},{"t":75.83,"s":5},{"t":78.38,"s":3},{"t":78.46,"s":5},{"t":78.54,"s":3},{"t":78.62,"s":5},{"t":79.25,"s":3},{"t":79.31,"s":5},{"t":82.04,"s":3},{"t":82.12,"s":5},{"t":82.2,"s":3},{"t":82.28,"s":5},{"t":82.39,"s":3},{"t":82.74,"s":4},{"t":82.8,"s":2},{"t":82.88,"s":1},{"t":82.96,"s":2},{"t":83.08,"s":4},{"t":85.52,"s":2},{"t":85.58,"s":4},{"t":86.04,"s":2},{"t":86.1,"s":4},{"t":86.57,"s":2},{"t":86.63,"s":4},{"t":87.09,"s":2},{"t":87.15,"s":4},{"t":87.44,"s":2},{"t":87.5,"s":4},{"t":88.49,"s":1},{"t":88.57,"s":2},{"t":88.65,"s":1},{"t":88.73,"s":2},{"t":89.01,"s":4},{"t":89.71,"s":1},{"t":89.88,"s":4},{"t":90.58,"s":2},{"t":90.7,"s":1},{"t":90.93,"s":5},{"t":91.0,"s":3},{"t":91.08,"s":5},{"t":97.0,"s":5}],
"p6": [{"t":0,"s":5},{"t":1.57,"s":3},{"t":1.72,"s":5},{"t":1.8,"s":3},{"t":2.01,"s":5},{"t":2.3,"s":3},{"t":3.03,"s":2},{"t":3.23,"s":1},{"t":3.28,"s":2},{"t":3.52,"s":4},{"t":3.9,"s":2},{"t":4.05,"s":1},{"t":4.13,"s":2},{"t":4.21,"s":1},{"t":4.69,"s":4},{"t":5.21,"s":2},{"t":5.36,"s":1},{"t":5.94,"s":2},{"t":6.09,"s":4},{"t":6.52,"s":2},{"t":6.6,"s":1},{"t":6.68,"s":2},{"t":6.76,"s":1},{"t":6.84,"s":2},{"t":6.96,"s":1},{"t":7.16,"s":4},{"t":9.14,"s":2},{"t":9.43,"s":1},{"t":9.5,"s":2},{"t":9.87,"s":3},{"t":10.31,"s":5},{"t":30.11,"s":3},{"t":30.17,"s":5},{"t":30.26,"s":3},{"t":30.32,"s":5},{"t":30.45,"s":3},{"t":30.51,"s":5},{"t":30.6,"s":3},{"t":30.66,"s":5},{"t":30.8,"s":3},{"t":30.86,"s":5},{"t":31.0,"s":3},{"t":31.06,"s":5},{"t":31.13,"s":3},{"t":31.57,"s":2},{"t":31.86,"s":1},{"t":31.92,"s":2},{"t":32.29,"s":4},{"t":32.35,"s":2},{"t":32.41,"s":4},{"t":32.47,"s":2},{"t":32.53,"s":4},{"t":32.59,"s":2},{"t":32.65,"s":4},{"t":33.6,"s":1},{"t":33.75,"s":4},{"t":33.81,"s":2},{"t":33.87,"s":4},{"t":33.93,"s":2},{"t":33.99,"s":4},{"t":34.05,"s":2},{"t":34.13,"s":4},{"t":34.62,"s":3},{"t":34.83,"s":1},{"t":35.21,"s":3},{"t":35.5,"s":5},{"t":38.45,"s":3},{"t":38.51,"s":5},{"t":38.74,"s":3},{"t":38.8,"s":5},{"t":38.85,"s":3},{"t":38.89,"s":5},{"t":39.18,"s":3},{"t":39.24,"s":5},{"t":39.61,"s":3},{"t":39.67,"s":5},{"t":39.84,"s":3},{"t":39.9,"s":5},{"t":40.34,"s":3},{"t":40.4,"s":5},{"t":40.5,"s":3},{"t":40.56,"s":5},{"t":40.66,"s":3},{"t":40.72,"s":5},{"t":40.82,"s":3},{"t":40.88,"s":5},{"t":40.98,"s":3},{"t":41.04,"s":5},{"t":41.14,"s":3},{"t":41.2,"s":5},{"t":41.3,"s":3},{"t":41.36,"s":5},{"t":41.46,"s":3},{"t":41.51,"s":5},{"t":48.36,"s":3},{"t":48.42,"s":5},{"t":48.48,"s":3},{"t":48.54,"s":5},{"t":48.65,"s":3},{"t":49.09,"s":2},{"t":49.15,"s":1},{"t":49.67,"s":4},{"t":49.96,"s":1},{"t":50.04,"s":2},{"t":50.12,"s":1},{"t":50.2,"s":2},{"t":50.28,"s":1},{"t":50.4,"s":4},{"t":50.69,"s":1},{"t":51.56,"s":4},{"t":51.86,"s":1},{"t":52.44,"s":4},{"t":52.73,"s":2},{"t":52.81,"s":4},{"t":52.89,"s":2},{"t":52.97,"s":4},{"t":53.05,"s":2},{"t":53.17,"s":1},{"t":53.32,"s":2},{"t":53.46,"s":3},{"t":53.75,"s":5},{"t":59.58,"s":3},{"t":59.64,"s":5},{"t":59.72,"s":3},{"t":59.78,"s":5},{"t":60.31,"s":3},{"t":60.37,"s":5},{"t":60.45,"s":3},{"t":60.51,"s":5},{"t":62.64,"s":3},{"t":62.7,"s":5},{"t":63.81,"s":3},{"t":63.87,"s":5},{"t":64.05,"s":3},{"t":64.1,"s":5},{"t":70.66,"s":3},{"t":70.74,"s":5},{"t":70.8,"s":3},{"t":70.86,"s":5},{"t":71.82,"s":3},{"t":72.41,"s":2},{"t":72.55,"s":1},{"t":72.99,"s":4},{"t":73.43,"s":1},{"t":73.55,"s":2},{"t":73.7,"s":1},{"t":74.01,"s":4},{"t":74.3,"s":2},{"t":74.36,"s":1},{"t":74.42,"s":2},{"t":74.59,"s":4},{"t":75.03,"s":2},{"t":75.3,"s":1},{"t":75.38,"s":2},{"t":75.61,"s":1},{"t":75.67,"s":2},{"t":75.76,"s":4},{"t":76.19,"s":2},{"t":76.63,"s":4},{"t":77.94,"s":5},{"t":78.0,"s":3},{"t":79.4,"s":2},{"t":79.84,"s":3},{"t":80.9,"s":3}]
},
"vconcat": [
{"width": 995, "height": 121, "title": {"text": "Sub. 1"},
 "layer": [
  {"data": {"name": "p1"}, "mark": {"type": "line", "interpolate": "step-after", "color": "#1a1a1a", "strokeWidth": 1},
   "encoding": {
    "x": {"field": "t", "type": "quantitative", "scale": {"domain": [0, 88.0], "nice": false, "zero": false}, "axis": {"orient": "bottom", "values": [13.889, 27.778, 41.667, 55.556, 69.444, 83.333], "tickCount": 20, "format": ".1f", "title": null}},
    "y": {"field": "s", "type": "quantitative", "scale": {"domain": [-0.08, 5.5], "nice": false, "zero": false}, "axis": {"orient": "left", "values": [1,2,3,4,5], "tickCount": 10, "title": null, "labelOverlap": false, "labelExpr": "datum.value == 5 ? 'Wake' : datum.value == 4 ? 'REM/TransWake' : datum.value == 3 ? 'Drowsy/N1' : datum.value == 2 ? 'light SWS (N2)' : 'deep SWS (N3)'"}}}},
  {"data": {"name": "lab"}, "transform": [{"filter": "datum.p == 1"}], "mark": {"type": "text", "fontWeight": "bold", "fontSize": 13, "color": "#222222", "font": "Liberation Sans"},
   "encoding": {
    "x": {"field": "t", "type": "quantitative", "axis": {"orient": "top", "values": [13.889, 27.778, 41.667, 55.556, 69.444, 83.333], "tickCount": 20, "labels": false, "title": null}},
    "y": {"field": "s", "type": "quantitative"},
    "text": {"field": "txt"}}}
 ]},
{"width": 995, "height": 121, "title": {"text": "Sub. 2"},
 "layer": [
  {"data": {"name": "p2"}, "mark": {"type": "line", "interpolate": "step-after", "color": "#1a1a1a", "strokeWidth": 1},
   "encoding": {
    "x": {"field": "t", "type": "quantitative", "scale": {"domain": [0, 94.5], "nice": false, "zero": false}, "axis": {"orient": "bottom", "values": [13.889, 27.778, 41.667, 55.556, 69.444, 83.333], "tickCount": 20, "format": ".1f", "title": null}},
    "y": {"field": "s", "type": "quantitative", "scale": {"domain": [-0.08, 5.5], "nice": false, "zero": false}, "axis": {"orient": "left", "values": [1,2,3,4,5], "tickCount": 10, "title": null, "labelOverlap": false, "labelExpr": "datum.value == 5 ? 'Wake' : datum.value == 4 ? 'REM/TransWake' : datum.value == 3 ? 'Drowsy/N1' : datum.value == 2 ? 'light SWS (N2)' : 'deep SWS (N3)'"}}}},
  {"data": {"name": "lab"}, "transform": [{"filter": "datum.p == 2"}], "mark": {"type": "text", "fontWeight": "bold", "fontSize": 13, "color": "#222222", "font": "Liberation Sans"},
   "encoding": {
    "x": {"field": "t", "type": "quantitative", "axis": {"orient": "top", "values": [13.889, 27.778, 41.667, 55.556, 69.444, 83.333], "tickCount": 20, "labels": false, "title": null}},
    "y": {"field": "s", "type": "quantitative"},
    "text": {"field": "txt"}}}
 ]},
{"width": 995, "height": 121, "title": {"text": "Sub. 3"},
 "layer": [
  {"data": {"name": "p3"}, "mark": {"type": "line", "interpolate": "step-after", "color": "#1a1a1a", "strokeWidth": 1},
   "encoding": {
    "x": {"field": "t", "type": "quantitative", "scale": {"domain": [0, 87.8], "nice": false, "zero": false}, "axis": {"orient": "bottom", "values": [13.889, 27.778, 41.667, 55.556, 69.444, 83.333], "tickCount": 20, "format": ".1f", "title": null}},
    "y": {"field": "s", "type": "quantitative", "scale": {"domain": [-0.08, 5.5], "nice": false, "zero": false}, "axis": {"orient": "left", "values": [1,2,3,4,5], "tickCount": 10, "title": null, "labelOverlap": false, "labelExpr": "datum.value == 5 ? 'Wake' : datum.value == 4 ? 'REM/TransWake' : datum.value == 3 ? 'Drowsy/N1' : datum.value == 2 ? 'light SWS (N2)' : 'deep SWS (N3)'"}}}},
  {"data": {"name": "lab"}, "transform": [{"filter": "datum.p == 3"}], "mark": {"type": "text", "fontWeight": "bold", "fontSize": 13, "color": "#222222", "font": "Liberation Sans"},
   "encoding": {
    "x": {"field": "t", "type": "quantitative", "axis": {"orient": "top", "values": [13.889, 27.778, 41.667, 55.556, 69.444, 83.333], "tickCount": 20, "labels": false, "title": null}},
    "y": {"field": "s", "type": "quantitative"},
    "text": {"field": "txt"}}}
 ]},
{"width": 995, "height": 121, "title": {"text": "Sub. 4"},
 "layer": [
  {"data": {"name": "p4"}, "mark": {"type": "line", "interpolate": "step-after", "color": "#1a1a1a", "strokeWidth": 1},
   "encoding": {
    "x": {"field": "t", "type": "quantitative", "scale": {"domain": [0, 92.8], "nice": false, "zero": false}, "axis": {"orient": "bottom", "values": [13.889, 27.778, 41.667, 55.556, 69.444, 83.333], "tickCount": 20, "format": ".1f", "title": null}},
    "y": {"field": "s", "type": "quantitative", "scale": {"domain": [-0.08, 5.5], "nice": false, "zero": false}, "axis": {"orient": "left", "values": [1,2,3,4,5], "tickCount": 10, "title": null, "labelOverlap": false, "labelExpr": "datum.value == 5 ? 'Wake' : datum.value == 4 ? 'REM/TransWake' : datum.value == 3 ? 'Drowsy/N1' : datum.value == 2 ? 'light SWS (N2)' : 'deep SWS (N3)'"}}}},
  {"data": {"name": "lab"}, "transform": [{"filter": "datum.p == 4"}], "mark": {"type": "text", "fontWeight": "bold", "fontSize": 13, "color": "#222222", "font": "Liberation Sans"},
   "encoding": {
    "x": {"field": "t", "type": "quantitative", "axis": {"orient": "top", "values": [13.889, 27.778, 41.667, 55.556, 69.444, 83.333], "tickCount": 20, "labels": false, "title": null}},
    "y": {"field": "s", "type": "quantitative"},
    "text": {"field": "txt"}}}
 ]},
{"width": 995, "height": 121, "title": {"text": "Sub. 5"},
 "layer": [
  {"data": {"name": "p5"}, "mark": {"type": "line", "interpolate": "step-after", "color": "#1a1a1a", "strokeWidth": 1},
   "encoding": {
    "x": {"field": "t", "type": "quantitative", "scale": {"domain": [0, 97.0], "nice": false, "zero": false}, "axis": {"orient": "bottom", "values": [13.889, 27.778, 41.667, 55.556, 69.444, 83.333], "tickCount": 20, "format": ".1f", "title": null}},
    "y": {"field": "s", "type": "quantitative", "scale": {"domain": [-0.08, 5.5], "nice": false, "zero": false}, "axis": {"orient": "left", "values": [1,2,3,4,5], "tickCount": 10, "title": null, "labelOverlap": false, "labelExpr": "datum.value == 5 ? 'Wake' : datum.value == 4 ? 'REM/TransWake' : datum.value == 3 ? 'Drowsy/N1' : datum.value == 2 ? 'light SWS (N2)' : 'deep SWS (N3)'"}}}},
  {"data": {"name": "lab"}, "transform": [{"filter": "datum.p == 5"}], "mark": {"type": "text", "fontWeight": "bold", "fontSize": 13, "color": "#222222", "font": "Liberation Sans"},
   "encoding": {
    "x": {"field": "t", "type": "quantitative", "axis": {"orient": "top", "values": [13.889, 27.778, 41.667, 55.556, 69.444, 83.333], "tickCount": 20, "labels": false, "title": null}},
    "y": {"field": "s", "type": "quantitative"},
    "text": {"field": "txt"}}}
 ]},
{"width": 995, "height": 121, "title": {"text": "Sub. 6"},
 "layer": [
  {"data": {"name": "p6"}, "mark": {"type": "line", "interpolate": "step-after", "color": "#1a1a1a", "strokeWidth": 1},
   "encoding": {
    "x": {"field": "t", "type": "quantitative", "scale": {"domain": [0, 80.9], "nice": false, "zero": false}, "axis": {"orient": "bottom", "values": [13.889, 27.778, 41.667, 55.556, 69.444], "tickCount": 20, "format": ".1f", "title": "Time (h)", "titleFontSize": 14, "titleFontWeight": "normal", "titleColor": "#1a1a1a", "titlePadding": 0}},
    "y": {"field": "s", "type": "quantitative", "scale": {"domain": [-0.08, 5.5], "nice": false, "zero": false}, "axis": {"orient": "left", "values": [1,2,3,4,5], "tickCount": 10, "title": null, "labelOverlap": false, "labelExpr": "datum.value == 5 ? 'Wake' : datum.value == 4 ? 'REM/TransWake' : datum.value == 3 ? 'Drowsy/N1' : datum.value == 2 ? 'light SWS (N2)' : 'deep SWS (N3)'"}}}},
  {"data": {"name": "lab"}, "transform": [{"filter": "datum.p == 6"}], "mark": {"type": "text", "fontWeight": "bold", "fontSize": 13, "color": "#222222", "font": "Liberation Sans"},
   "encoding": {
    "x": {"field": "t", "type": "quantitative", "axis": {"orient": "top", "values": [13.889, 27.778, 41.667, 55.556, 69.444], "tickCount": 20, "labels": false, "title": null}},
    "y": {"field": "s", "type": "quantitative"},
    "text": {"field": "txt"}}}
 ]}
]
}
